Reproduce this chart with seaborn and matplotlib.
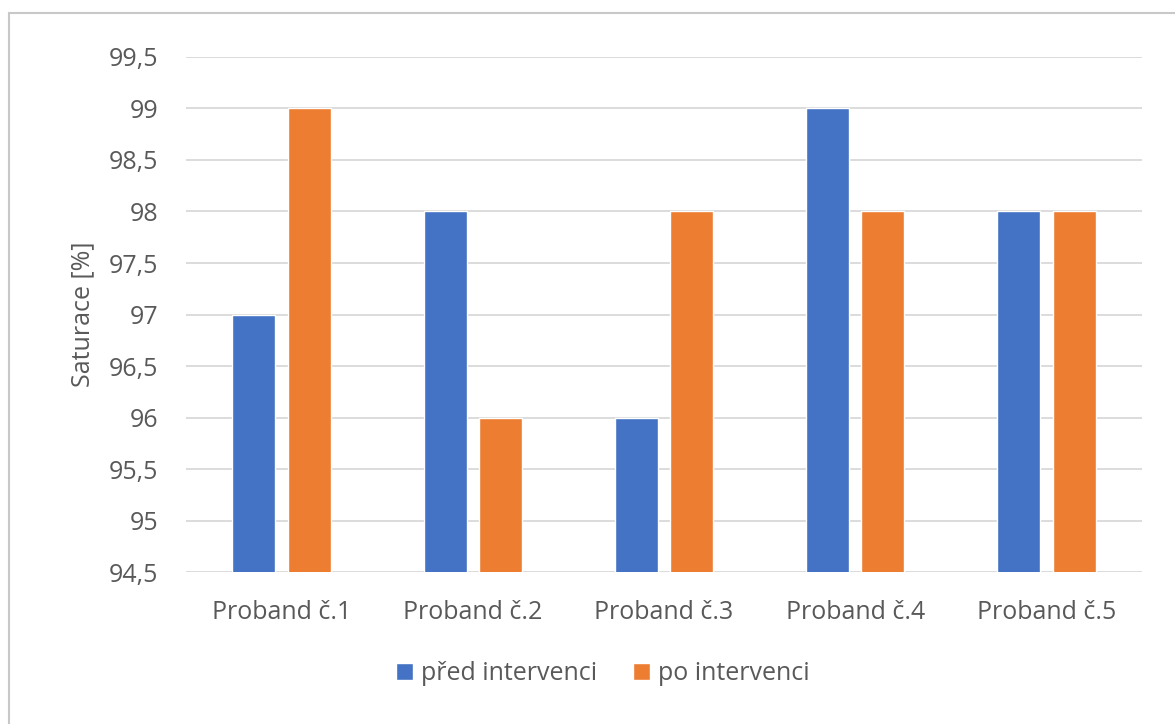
import matplotlib
matplotlib.use("Agg")
import matplotlib.pyplot as plt
from matplotlib.ticker import MultipleLocator, FuncFormatter
from matplotlib.patches import Rectangle
import seaborn as sns
import pandas as pd

categories = ["Proband č.1", "Proband č.2", "Proband č.3", "Proband č.4", "Proband č.5"]
series_names = ["před intervenci", "po intervenci"]
pred_values = [97, 98, 96, 99, 98]
po_values = [99, 96, 98, 98, 98]

df = pd.DataFrame({
    "proband": categories * 2,
    "serie": [series_names[0]] * len(categories) + [series_names[1]] * len(categories),
    "hodnota": pred_values + po_values,
})

sns.set_theme(style="white")
plt.rcParams["font.family"] = ["Open Sans", "DejaVu Sans"]

text_color = "#595959"
fig = plt.figure(figsize=(11.75, 7.24), dpi=100)
ax = fig.add_axes([0.1583, 0.2099, 0.8136, 0.7114])

sns.barplot(data=df, x="proband", y="hodnota", hue="serie", ax=ax,
            palette=["#4472C4", "#ED7D31"], width=0.58, gap=0.225,
            saturation=1, errorbar=None, zorder=3)

ax.set_ylim(94.5, 99.5)
ax.yaxis.set_major_locator(MultipleLocator(0.5))
ax.yaxis.set_major_formatter(FuncFormatter(lambda v, p: f"{v:g}".replace(".", ",")))
ax.grid(axis="y", color="#D9D9D9", linewidth=1.3, zorder=0)
ax.set_axisbelow(True)
for s in ax.spines.values():
    s.set_visible(False)
ax.tick_params(axis="both", length=0, labelsize=18, colors=text_color)
ax.tick_params(axis="y", pad=20)
ax.tick_params(axis="x", pad=20)
ax.set_xlabel("")
ax.set_ylabel("Saturace [%]", fontsize=18, color=text_color, labelpad=10)

handles, labels = ax.get_legend_handles_labels()
ax.legend_.remove()
fig.legend(handles, labels, loc="center", bbox_to_anchor=(0.513, 1 - 674 / 724),
           ncol=2, frameon=False, fontsize=18, handlelength=0.68, handleheight=0.68,
           handletextpad=0.3, columnspacing=1.45, labelcolor=text_color)

# light frame of the chart area
fig.patches.append(Rectangle((9 / 1175, -0.1), 1.2, 1 - 13 / 724 + 0.1,
                             transform=fig.transFigure, fill=False,
                             edgecolor="#C8C8C8", linewidth=1.5))

fig.savefig("out.png", dpi=100, facecolor="white")
